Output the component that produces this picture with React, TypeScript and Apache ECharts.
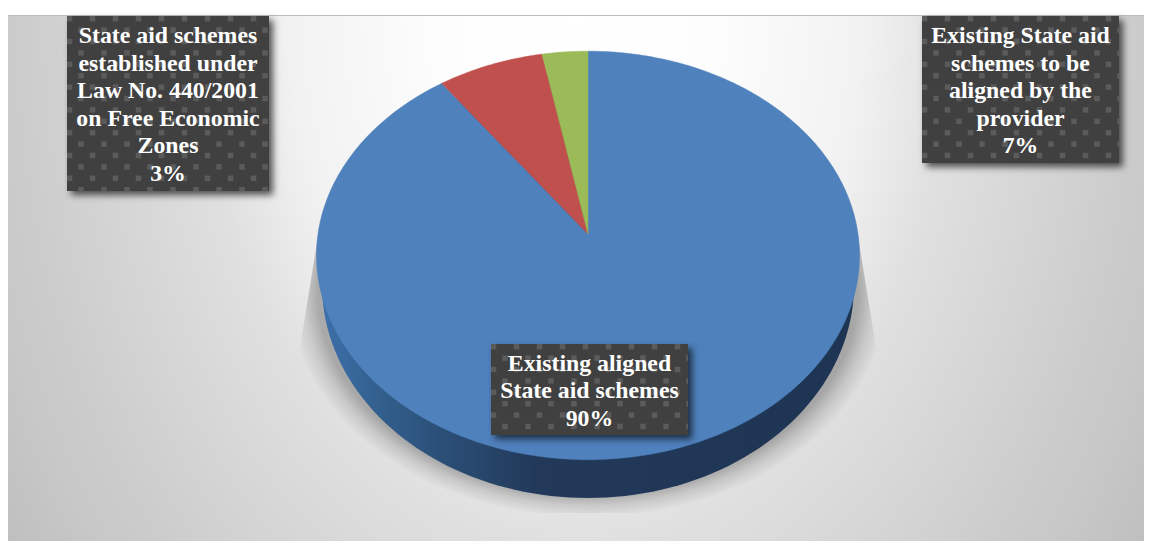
import React, { useEffect, useRef } from "react";
import * as echarts from "echarts";

// Shares of the State aid schemes, clockwise from twelve o'clock.
const schemeNames = [
  "Existing aligned\nState aid schemes",
  "Existing State aid\nschemes to be\naligned by the\nprovider",
  "State aid schemes\nestablished under\nLaw No. 440/2001\non Free Economic\nZones",
];
const schemeShares = [90, 7, 3];
const sliceColors = ["#4f81bd", "#c0504d", "#9bbb59"];

// Label cards, in the same order as the shares.
const cardBoxes = [
  { x: 491, y: 344, w: 197, h: 91 },
  { x: 922, y: 16, w: 197, h: 147 },
  { x: 67, y: 16, w: 202, h: 175 },
];

// Perspective disc: the apex sits above the centre of the visible ellipse.
const DISC = { apexX: 588, apexY: 234, a: 270, b: 202, k: 0.105 };
const WALL = { cx: 588, cy: 285, rx: 266, ry: 213 };

const rimPoint = (deg: number) => {
  const t = (deg * Math.PI) / 180;
  const w = 1 + DISC.k * Math.cos(t);
  return [
    DISC.apexX + (DISC.a * Math.sin(t)) / w,
    DISC.apexY - (DISC.b * Math.cos(t)) / w,
  ];
};

const total = schemeShares.reduce((s, v) => s + v, 0);

const ellipsePoints = (cx: number, cy: number, rx: number, ry: number) => {
  const pts: number[][] = [];
  for (let d = 0; d < 360; d += 2) {
    const t = (d * Math.PI) / 180;
    pts.push([cx + rx * Math.cos(t), cy + ry * Math.sin(t)]);
  }
  return pts;
};

const renderSlice = (params: any, api: any) => {
  const i = params.dataIndex;
  const before = schemeShares.slice(0, i).reduce((s, v) => s + v, 0);
  const start = (before / total) * 360;
  const end = ((before + api.value(0)) / total) * 360;
  const pts = [[DISC.apexX, DISC.apexY]];
  for (let d = start; d < end; d += 1) pts.push(rimPoint(d));
  pts.push(rimPoint(end));
  const children: any[] = [];
  if (i === 0) {
    children.push({
      type: "polygon",
      shape: { points: ellipsePoints(WALL.cx, WALL.cy, WALL.rx, WALL.ry) },
      style: {
        fill: new echarts.graphic.LinearGradient(
          322, 0, 855, 0,
          [
            { offset: 0, color: "#3d70aa" },
            { offset: 0.1, color: "#33608f" },
            { offset: 0.22, color: "#2b5078" },
            { offset: 0.4, color: "#22395a" },
            { offset: 1, color: "#1d3452" },
          ],
          true,
        ),
      },
    });
  }
  children.push({
    type: "polygon",
    shape: { points: pts },
    style: { fill: sliceColors[i], stroke: sliceColors[i], lineWidth: 0.5 },
  });
  return { type: "group", children };
};

const renderCard = (params: any, api: any) => {
  const i = params.dataIndex;
  const box = cardBoxes[i];
  const children: any[] = [
    {
      type: "rect",
      shape: { x: box.x, y: box.y, width: box.w, height: box.h },
      style: {
        fill: "#3f3f3f",
        shadowBlur: 7,
        shadowOffsetX: 4,
        shadowOffsetY: 4,
        shadowColor: "rgba(0,0,0,0.65)",
      },
    },
  ];
  // Staggered dot texture of the card fill.
  const size = 5.5;
  for (let r = 0; 2.7 + r * 11.4 - size / 2 < box.h - 1; r++) {
    const cy = 2.7 + r * 11.4;
    for (let c = 0; ; c++) {
      const cx = 2.5 + c * 23 + (r % 2 ? 11.5 : 0);
      if (cx - size / 2 > box.w - 1) break;
      const x0 = Math.max(cx - size / 2, 0);
      const y0 = Math.max(cy - size / 2, 0);
      children.push({
        type: "rect",
        shape: {
          x: box.x + x0,
          y: box.y + y0,
          width: Math.min(cx + size / 2, box.w) - x0,
          height: Math.min(cy + size / 2, box.h) - y0,
        },
        style: { fill: "#5b5b5b" },
      });
    }
  }
  children.push({
    type: "text",
    x: box.x + box.w / 2,
    y: box.y + box.h / 2 + 0.5,
    style: {
      text: `${schemeNames[i]}\n${api.value(0)}%`,
      fill: "#ffffff",
      fontFamily: "Liberation Serif",
      fontWeight: "bold",
      fontSize: 23.8,
      lineHeight: 27.5,
      align: "center",
      verticalAlign: "middle",
    },
  });
  return { type: "group", children };
};

// Panel backdrop: an elliptical radial wash, white at the top centre.
const panelScale = 1.4;
const panelRadius = 682;
const panelStops = [
  { offset: 0, color: "#ffffff" },
  { offset: 0.2, color: "#fdfdfd" },
  { offset: 0.417, color: "#f2f2f2" },
  { offset: 0.55, color: "#e0e0e0" },
  { offset: 0.833, color: "#cbcbcb" },
  { offset: 0.89, color: "#c8c8c8" },
  { offset: 1, color: "#bfbfbf" },
];

// Soft cast shadow under the disc, cut off by a trapezoid.
const shadow = { cx: 588, cy: 290, r: 300, scale: 0.76 };
const shadowOutline = [
  [319, 230],
  [298, 360],
  [298, 513],
  [878, 513],
  [878, 360],
  [857, 230],
];

export default function App() {
  const ref = useRef<HTMLDivElement>(null);

  useEffect(() => {
    const chart = echarts.init(ref.current!, undefined, { renderer: "svg" });
    chart.setOption({
      animation: false,
      backgroundColor: "#ffffff",
      graphic: [
        {
          type: "rect",
          x: 8,
          y: 15,
          scaleY: panelScale,
          z: 0,
          silent: true,
          shape: { x: 0, y: 0, width: 1136, height: 526 / panelScale },
          style: {
            fill: new echarts.graphic.RadialGradient(568, 0, panelRadius, panelStops, true),
          },
        },
        {
          type: "line",
          z: 1,
          silent: true,
          shape: { x1: 8, y1: 15.5, x2: 1144, y2: 15.5 },
          style: { stroke: "#bdbdbd", lineWidth: 1 },
        },
        {
          type: "polygon",
          x: shadow.cx,
          y: shadow.cy,
          scaleY: shadow.scale,
          z: 1,
          silent: true,
          shape: {
            points: shadowOutline.map(([px, py]) => [px - shadow.cx, (py - shadow.cy) / shadow.scale]),
          },
          style: {
            fill: new echarts.graphic.RadialGradient(
              0, 0, shadow.r,
              [
                { offset: 0, color: "rgba(0,0,0,0.27)" },
                { offset: 0.9, color: "rgba(0,0,0,0.27)" },
                { offset: 0.945, color: "rgba(0,0,0,0.12)" },
                { offset: 1, color: "rgba(0,0,0,0)" },
              ],
              true,
            ),
          },
        },
      ],
      series: [
        {
          type: "custom",
          coordinateSystem: "none",
          silent: true,
          z: 2,
          renderItem: renderSlice,
          data: schemeShares.map((v, i) => ({ name: schemeNames[i], value: [v] })),
        },
        {
          type: "custom",
          coordinateSystem: "none",
          silent: true,
          z: 3,
          renderItem: renderCard,
          data: schemeShares.map((v, i) => ({ name: schemeNames[i], value: [v] })),
        },
      ],
    });
    return () => chart.dispose();
  }, []);

  return <div ref={ref} style={{ position: "fixed", left: 0, top: 0, width: 1152, height: 541 }} />;
}
